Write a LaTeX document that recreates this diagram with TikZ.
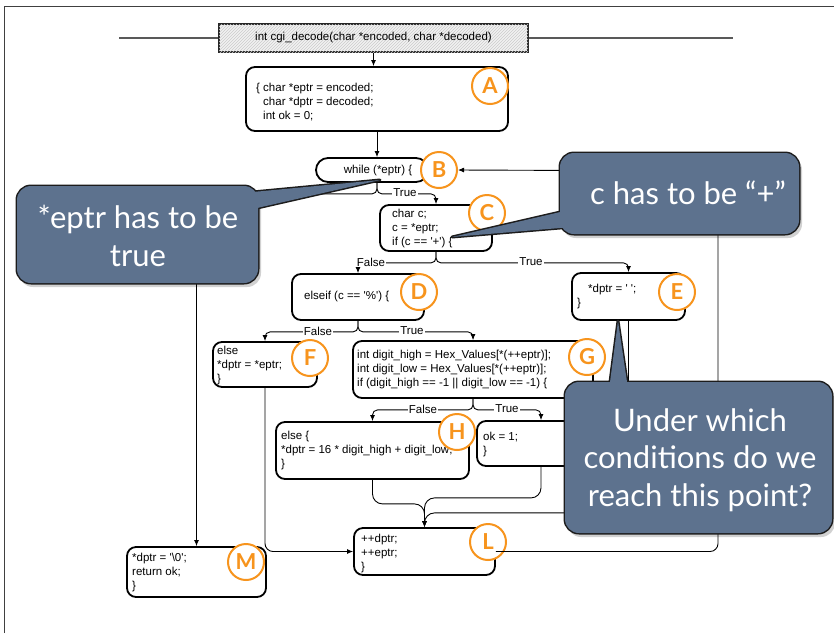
\documentclass[tikz,border=0pt]{standalone}
\usepackage{fontspec}
\setmainfont{Liberation Sans}
\newfontfamily\callfont{Lato}
\usetikzlibrary{arrows.meta,patterns}
\definecolor{badgeorange}{RGB}{247,148,29}
\definecolor{calloutblue}{RGB}{93,114,142}
\definecolor{calloutedge}{RGB}{28,28,28}
\newcommand{\codefont}{\fontsize{11.5}{14}\selectfont}
\newcommand{\sq}{\textquotesingle}
\begin{document}
\begin{tikzpicture}[x=1pt,y=-1pt,
  box/.style={draw=black, line width=1.8pt, rounded corners=9pt, fill=white, inner sep=0pt},
  code/.style={font=\codefont, align=left, anchor=west, inner sep=0pt},
  badge/.style={circle, draw=badgeorange, line width=2pt, fill=white, minimum size=36pt, inner sep=0pt,
     font=\callfont\bfseries\fontsize{22}{22}\selectfont, text=badgeorange},
  conn/.style={line width=0.9pt, rounded corners=5pt},
  arr/.style={conn, -{Latex[length=6pt,width=5pt]}},
  lbl/.style={fill=white, inner sep=1pt, font=\codefont},
  cedge/.style={draw=calloutedge, line width=3pt, line join=round},
  cfill/.style={fill=calloutblue},
  cshadow/.style={fill=black, opacity=0.18},
  ctext/.style={font=\callfont\fontsize{31}{37.5}\selectfont, text=white, align=center, inner sep=0pt}
]
\useasboundingbox (0,0) rectangle (834,633);
% frame
\draw[black!75, line width=0.8pt] (4,633) -- (4,6) -- (834,6);
% header
\node[draw=black!85, line width=1.4pt, fill=black!5, postaction={pattern=north east lines, pattern color=black!20},
      minimum width=309pt, minimum height=28pt, inner sep=0pt, font=\codefont] (hdr) at (373.5,38)
      {int cgi\_decode(char *encoded, char *decoded)};
\coordinate (hl) at (119,38);
\coordinate (hr) at (733,38);
\draw[black!65, line width=1.1pt] (hl) -- (hdr.west);
\draw[black!65, line width=1.1pt] (hdr.east) -- (hr);

% boxes
\node[box, minimum width=262pt, minimum height=64pt] (A) at (377,99) {};
\node[box, minimum width=112pt, minimum height=24pt, rounded corners=12pt] (B) at (372,170) {};
\node[box, minimum width=112pt, minimum height=46pt] (C) at (436,228) {};
\node[box, minimum width=132pt, minimum height=46pt] (D) at (358,297) {};
\node[box, minimum width=113pt, minimum height=47pt] (E) at (628.5,296.5) {};
\node[box, minimum width=104pt, minimum height=45pt] (F) at (265,364.5) {};
\node[box, minimum width=240pt, minimum height=57pt] (G) at (473,369.5) {};
\node[box, minimum width=193pt, minimum height=57pt] (H) at (372.5,450.5) {};
\node[box, minimum width=128pt, minimum height=45pt] (I) at (541,443.5) {};
\node[box, minimum width=141pt, minimum height=47pt] (L) at (424.5,551.5) {};
\node[box, minimum width=139pt, minimum height=50pt] (M) at (196.5,572) {};

% texts
\node[code] (At) at (256,103) {\{ char *eptr = encoded;\\\phantom{\{ }char *dptr = decoded;\\\phantom{\{ }int ok = 0;};
\node[code, anchor=center] (Bt) at (378,171) {while (*eptr) \{};
\node[code] (Ct) at (392,228.5) {char c;\\c = *eptr;\\if (c == \sq+\sq) \{};
\node[code] (Dt) at (304,296.5) {elseif (c == \sq\%\sq) \{};
\node[code] (Et) at (577,297) {\hspace*{11pt}*dptr = \sq\ \sq;\\\}};
\node[code] (Ft) at (217,365.5) {else\\*dptr = *eptr;\\\}};
\node[code] (Gt) at (357,369.5) {int digit\_high = Hex\_Values[*(++eptr)];\\int digit\_low = Hex\_Values[*(++eptr)];\\if (digit\_high == -1 || digit\_low == -1) \{};
\node[code] (Ht) at (281,451) {else \{\\*dptr = 16 * digit\_high + digit\_low;\\\}};
\node[code] (It) at (483,444.5) {ok = 1;\\\}};
\node[code] (Lt) at (361,553.5) {++dptr;\\++eptr;\\\}};
\node[code] (Mt) at (132,572.5) {*dptr = \sq\textbackslash 0\sq;\\return ok;\\\}};

% connectors
\draw[arr] (hdr.south) -- (hdr.south |- A.north);
\draw[arr] (A.south) -- (A.south |- B.north);
\draw[arr] ([xshift=5pt]B.south) -- ++(0,11) -| (C.north);
\draw[arr] ([xshift=5pt]B.south) -- ++(0,11) -| (M.north);
\draw[arr] (C.south) -- ++(0,11) -| (D.north);
\draw[arr] (C.south) -- ++(0,11) -| (E.north);
\draw[arr] (D.south) -- ++(0,11) -| (F.north);
\draw[arr] (D.south) -- ++(0,11) -| (G.north);
\draw[arr] (G.south) -- ++(0,11) -| (H.north);
\draw[arr] (G.south) -- ++(0,11) -| (I.north);
\draw[arr, rounded corners=10pt] (H.south) -- ++(0,24) -| (L.north);
\draw[arr, rounded corners=10pt] (I.south) -- ++(0,31) -| (L.north);
\draw[arr, rounded corners=10pt] (E.south) -- ++(0,192) -| (L.north);
\draw[arr, rounded corners=8pt] (F.south) |- (L.west);

\node[lbl] (lBT) at (405,193) {True};
\node[lbl] (lCF) at (371,262) {False};
\node[lbl] (lCT) at (531,262) {True};
\node[lbl] (lDF) at (318,331) {False};
\node[lbl] (lDT) at (412,331) {True};
\node[lbl] (lGF) at (423,409) {False};
\node[lbl] (lGT) at (507,409) {True};

% badges
\node[badge] (bA) at (490,86) {A};
\node[badge] (bB) at (439,170) {B};
\node[badge] (bC) at (487,213) {C};
\node[badge] (bD) at (419,292) {D};
\node[badge] (bE) at (677,292) {E};
\node[badge] (bF) at (310,358) {F};
\node[badge] (bG) at (587,357) {G};
\node[badge] (bH) at (457,432) {H};
\node[badge] (bL) at (488,542) {L};
\node[badge] (bM) at (246,562) {M};

% loop back
\coordinate (loopc) at (718,171);
\draw[arr, rounded corners=8pt] (L.east) -| (loopc) -- (bB.east);

% callout 1
\path[cshadow, rounded corners=14pt] (19,189) rectangle (261,287);
\path[cedge, rounded corners=14pt] (17,186) rectangle (258,283);
\path[cedge] (240,193.2) -- (380,180) -- (240,211.9) -- cycle;
\path[cfill, rounded corners=14pt] (17,186) rectangle (258,283);
\path[cfill] (240,193.2) -- (380,180) -- (240,211.9) -- cycle;
\node[ctext] (t1) at (138,236) {*eptr has to be\\true};

% callout 2
\path[cshadow, rounded corners=14pt] (562,156) rectangle (802,238);
\path[cedge, rounded corners=14pt] (560,153) rectangle (799,234);
\path[cedge] (572,209.3) -- (452,237) -- (572,227) -- cycle;
\path[cfill, rounded corners=14pt] (560,153) rectangle (799,234);
\path[cfill] (572,209.3) -- (452,237) -- (572,227) -- cycle;
\node[ctext] (t2) at (688,193) {c has to be “+”};

% callout 3
\path[cshadow, rounded corners=14pt] (567,385) rectangle (835,537);
\path[cedge, rounded corners=14pt] (565,382) rectangle (832,533);
\path[cedge] (608.7,392) -- (618,321) -- (628.5,392) -- cycle;
\path[cfill, rounded corners=14pt] (565,382) rectangle (832,533);
\path[cfill] (608.7,392) -- (618,321) -- (628.5,392) -- cycle;
\node[ctext] (t3) at (700,460) {Under which\\conditions do we\\reach this point?};
\end{tikzpicture}
\end{document}
